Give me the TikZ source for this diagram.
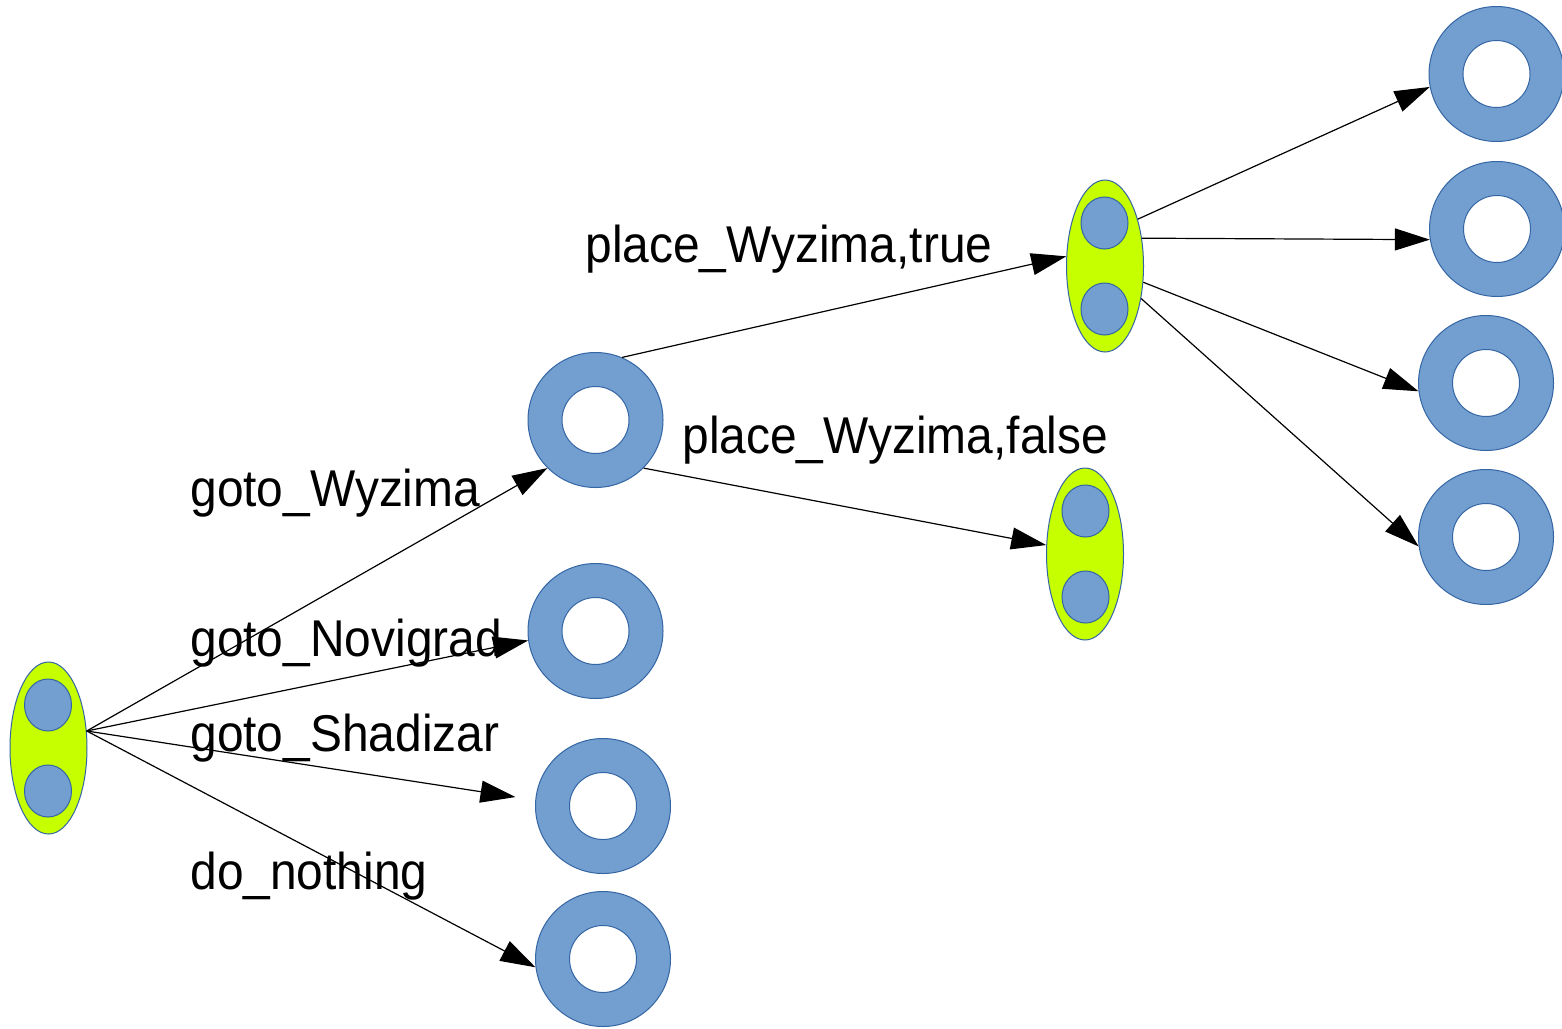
\documentclass[tikz,border=0pt]{standalone}
\usepackage{fontspec}
\setmainfont{Liberation Sans}
\usetikzlibrary{arrows.meta,shapes.geometric}
\definecolor{ringblue}{HTML}{729FCF}
\definecolor{edgeblue}{HTML}{3465A4}
\definecolor{limefill}{HTML}{C5FF00}
\newcommand{\tall}[1]{\scalebox{1}[1.08]{#1}}

\begin{document}
\begin{tikzpicture}[x=0.5pt,y=-0.5pt,
  ring/.style={circle, draw=edgeblue, line width=0.5pt, fill=ringblue, minimum size=67.5pt, inner sep=0pt},
  hole/.style={circle, draw=edgeblue, line width=0.5pt, fill=white, minimum size=33.5pt, inner sep=0pt},
  world/.style={ellipse, draw=edgeblue, line width=0.5pt, fill=limefill, minimum width=38.5pt, minimum height=86pt, inner sep=0pt},
  token/.style={ellipse, draw=edgeblue, line width=0.5pt, fill=ringblue, minimum width=23.5pt, minimum height=26pt, inner sep=0pt},
  trans/.style={line width=0.6pt, -{Triangle[length=17.5pt,width=11pt]}},
  lbl/.style={anchor=base west, inner sep=0pt, font=\fontsize{23.95}{28}\selectfont}]

\fill[white] (0,0) rectangle (1562,1028);
\useasboundingbox (0,0) rectangle (1562,1028);

% belief states: yellow ellipses holding two tokens
\node[world] (L) at (48.5,748) {};
\node[token] (La) at (48,705) {};
\node[token] (Lb) at (48,791) {};

\node[world] (U) at (1105,266) {};
\node[token] (Ua) at (1104.5,223) {};
\node[token] (Ub) at (1104.5,309) {};

\node[world] (W) at (1085,554) {};
\node[token] (Wa) at (1085.5,511) {};
\node[token] (Wb) at (1085.5,597) {};

% ring nodes
\foreach \n/\x/\y in {R1/595.5/420, R2/595.5/631, R3/603/806, R4/603/959,
                      S1/1496.5/74, S2/1497/229, S3/1486/383, S4/1486/537} {
  \node[ring] (\n) at (\x,\y) {};
  \node[hole] (\n h) at (\x,\y) {};
}

% transitions
\draw[trans] (L.24) -- (R1.225);
\draw[trans] (L.24) -- (R2.188);
\draw[trans, shorten >=10pt] (L.24) -- (R3.175);
\draw[trans] (L.24) -- (R4.187);

\draw[trans] (R1.67) -- (U.166);
\draw[trans] (R1.315) -- (W.167);

\draw[trans] (U.55) -- (S1.191);
\draw[trans] (U.37) -- (S2.189);
\draw[trans] (U.337) -- (S3.187);
\draw[trans] (U.318) -- (S4.188);

% action labels
\node[lbl] (t1) at (190,506) {\tall{goto\_Wyzima}};
\node[lbl] (t2) at (190,656) {\tall{goto\_Novigrad}};
\node[lbl] (t3) at (190,751) {\tall{goto\_Shadizar}};
\node[lbl] (t4) at (190,889) {\tall{do\_nothing}};
\node[lbl] (t5) at (585,262) {\tall{place\_Wyzima,true}};
\node[lbl] (t6) at (682,453) {\tall{place\_Wyzima,false}};
\end{tikzpicture}
\end{document}
